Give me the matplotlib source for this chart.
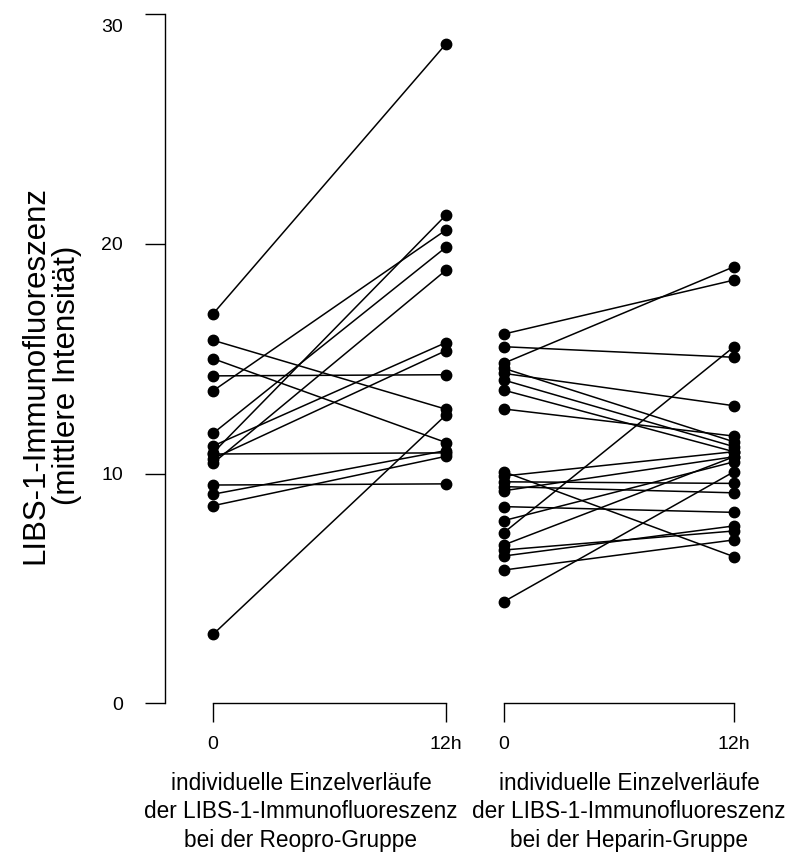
import matplotlib
matplotlib.use('Agg')
import matplotlib.pyplot as plt
from matplotlib.transforms import ScaledTranslation

plt.rcParams['font.family'] = ['Liberation Sans', 'DejaVu Sans']

# values (LIBS-1 immunofluorescence, 0 and 12h)
reopro_0 = [16.95, 15.8, 15.0, 14.25, 13.6, 11.75, 11.2, 10.9, 10.85, 10.65, 10.45, 9.5, 9.1, 8.6, 3.0]
reopro_12 = [28.7, 12.8, 11.35, 14.3, 20.6, 19.85, 15.7, 21.25, 10.9, 15.35, 18.85, 9.55, 11.0, 10.75, 12.55]

heparin_0 = [16.07, 15.52, 14.80, 14.58, 14.36, 14.07, 13.63, 12.81, 10.08, 9.89, 9.64,
             9.43, 9.25, 8.56, 7.95, 7.42, 6.89, 6.67, 6.41, 5.80, 4.42]
heparin_12 = [18.42, 15.06, 19.00, 11.38, 12.95, 11.17, 10.95, 11.63, 6.38, 10.95, 9.57,
              9.16, 10.73, 8.31, 10.51, 15.52, 10.73, 7.50, 7.72, 7.11, 10.08]

time_labels = ['0', '12h']
y_ticks = [0, 10, 20, 30]
ylabel = 'LIBS-1-Immunofluoreszenz\n(mittlere Intensität)'
group_labels = ['individuelle Einzelverläufe\nder LIBS-1-Immunofluoreszenz\nbei der Reopro-Gruppe',
                'individuelle Einzelverläufe\nder LIBS-1-Immunofluoreszenz\nbei der Heparin-Gruppe']

W, H = 792, 857
fig = plt.figure(figsize=(W / 100, H / 100), dpi=100)

ax_bottom = (H - 703.3) / H
ax_height = 689.3 / H
ax1 = fig.add_axes([165 / W, ax_bottom, 305 / W, ax_height])
ax2 = fig.add_axes([480 / W, ax_bottom, 290 / W, ax_height])
ax1.set_xlim(-0.2063, 1.1031)
ax2.set_xlim(-0.1029, 1.1563)

for ax, before, after in [(ax1, reopro_0, reopro_12), (ax2, heparin_0, heparin_12)]:
    for a, b in zip(before, after):
        ax.plot([0, 1], [a, b], color='black', lw=1.1, marker='o', ms=7.5,
                clip_on=False, solid_capstyle='butt')
    ax.set_ylim(0, 30)
    ax.patch.set_visible(False)
    for side in ['top', 'right']:
        ax.spines[side].set_visible(False)
    ax.spines['bottom'].set_bounds(0, 1)
    ax.spines['bottom'].set_linewidth(1.0)
    ax.set_xticks([0, 1])
    ax.set_xticklabels(time_labels)
    ax.tick_params(axis='x', direction='out', length=13.7, width=1.0, pad=9.5, labelsize=14)

ax1.spines['left'].set_bounds(0, 30)
ax1.spines['left'].set_linewidth(1.0)
ax1.set_yticks(y_ticks)
ax1.tick_params(axis='y', direction='out', length=14.4, width=1.0, pad=16, labelsize=14)
ax2.spines['left'].set_visible(False)
ax2.set_yticks([])

# top tick label sits a bit lower in the reference
top_label = ax1.get_yticklabels()[-1]
top_label.set_transform(top_label.get_transform() + ScaledTranslation(0, -11 / 100, fig.dpi_scale_trans))

fig.text(51 / W, 1 - 375 / H, ylabel, rotation=90, ha='center', va='center',
         fontsize=22.5, linespacing=1.05, multialignment='center')

for xc, txt in zip([301, 629], group_labels):
    fig.text(xc / W, 1 - 812 / H, txt, ha='center', va='center', fontsize=16.3,
             linespacing=1.3, multialignment='center')

fig.savefig('out.png', dpi=100)
